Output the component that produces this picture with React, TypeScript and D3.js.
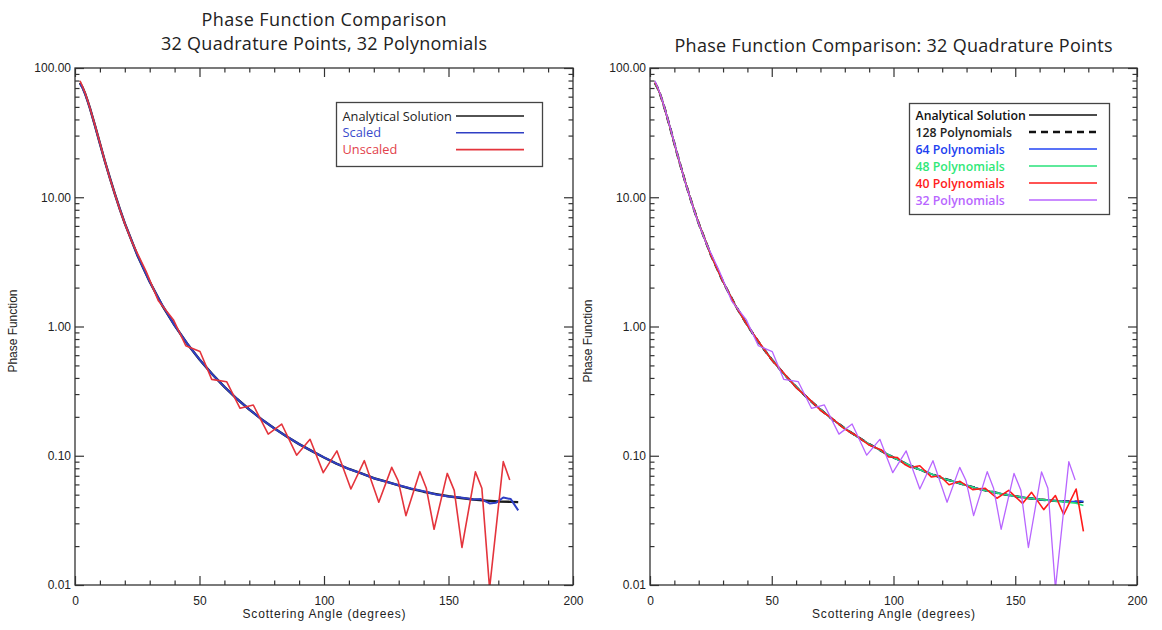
import { useRef, useEffect } from 'react';
import * as d3 from 'd3';

const WIDTH = 1162;
const HEIGHT = 630;

// ---- values (scattering angle in degrees, phase function) ----

const analyticAngles = [2, 3, 4, 5, 6, 8, 10, 12, 14, 16, 18, 20, 25, 30, 35, 40, 45, 50, 55, 60, 65, 70, 75, 80, 85, 90, 95, 100, 105, 110, 115, 120, 125, 130, 135, 140, 145, 150, 155, 160, 165, 170, 175, 178];
const analyticPF = [76.8, 70.9, 63.8, 56.2, 48.9, 36.0, 26.1, 19.0, 14.1, 10.6, 8.1, 6.28, 3.58, 2.22, 1.46, 1.02, 0.739, 0.555, 0.430, 0.341, 0.276, 0.228, 0.191, 0.163, 0.141, 0.123, 0.109, 0.097, 0.087, 0.079, 0.073, 0.067, 0.063, 0.059, 0.0555, 0.0527, 0.0505, 0.0486, 0.0471, 0.0459, 0.0450, 0.0443, 0.0440, 0.0438];

// left panel, "Scaled"
const scaledAngles = [2, 3, 4, 5, 6, 8, 10, 12, 14, 16, 18, 20, 25, 30, 35, 40, 45, 50, 55, 60, 65, 70, 75, 80, 85, 90, 95, 100, 105, 110, 115, 120, 125, 130, 135, 140, 145, 150, 155, 160, 163, 166.5, 169, 172, 175, 178];
const scaledPF = [75.5, 70.5, 63.5, 56.0, 48.8, 36.0, 26.1, 19.0, 14.1, 10.6, 8.1, 6.28, 3.58, 2.22, 1.47, 1.02, 0.74, 0.556, 0.430, 0.341, 0.276, 0.228, 0.191, 0.163, 0.141, 0.123, 0.109, 0.097, 0.087, 0.079, 0.073, 0.067, 0.063, 0.0592, 0.0558, 0.0532, 0.0502, 0.0484, 0.0476, 0.0458, 0.0462, 0.0428, 0.0432, 0.0475, 0.0462, 0.0378];

// left "Unscaled" == right "32 Polynomials"
const poly32Angles = [2, 3, 4, 5, 6, 8, 10, 12, 14, 16, 18, 20, 23, 28.5, 33.5, 39.5, 44.5, 50.2, 54.9, 60.9, 66.3, 71.6, 77.6, 83, 89, 94.4, 99.7, 105.2, 110.8, 116.2, 122, 127.2, 129.8, 132.9, 138.5, 141.1, 144.2, 149.5, 152.3, 155.4, 160.8, 163.4, 166.5, 172, 174.6];
const poly32PF = [79.5, 72, 64.5, 56.5, 49, 36.2, 26.3, 19.1, 14.0, 10.6, 8.05, 6.25, 4.45, 2.68, 1.58, 1.13, 0.71, 0.64, 0.39, 0.374, 0.233, 0.247, 0.147, 0.176, 0.101, 0.134, 0.074, 0.109, 0.0553, 0.0916, 0.0437, 0.0813, 0.064, 0.0344, 0.0753, 0.056, 0.027, 0.073, 0.054, 0.0195, 0.075, 0.056, 0.0094, 0.090, 0.065];

// right panel
const poly128PF = [76.8, 70.9, 63.8, 56.2, 48.9, 36.0, 26.1, 19.0, 14.1, 10.6, 8.1, 6.28, 3.58, 2.22, 1.46, 1.02, 0.739, 0.555, 0.430, 0.341, 0.276, 0.228, 0.191, 0.163, 0.141, 0.123, 0.109, 0.097, 0.087, 0.079, 0.073, 0.067, 0.063, 0.059, 0.0555, 0.0527, 0.0505, 0.0486, 0.0471, 0.0459, 0.0450, 0.0443, 0.0441, 0.0440];
const poly64PF = [76.5, 70.8, 63.8, 56.2, 48.9, 36.0, 26.1, 19.0, 14.1, 10.6, 8.1, 6.28, 3.58, 2.22, 1.46, 1.02, 0.739, 0.555, 0.430, 0.341, 0.276, 0.228, 0.191, 0.163, 0.141, 0.123, 0.109, 0.097, 0.087, 0.079, 0.073, 0.067, 0.063, 0.059, 0.0556, 0.0526, 0.0506, 0.0485, 0.0472, 0.0458, 0.0451, 0.0442, 0.0443, 0.0444];
const poly48PF = [76.2, 70.6, 63.8, 56.2, 48.9, 36.0, 26.1, 19.0, 14.1, 10.6, 8.1, 6.28, 3.58, 2.22, 1.46, 1.02, 0.739, 0.555, 0.430, 0.341, 0.276, 0.228, 0.191, 0.163, 0.141, 0.123, 0.109, 0.097, 0.087, 0.079, 0.073, 0.067, 0.063, 0.059, 0.0554, 0.0528, 0.0503, 0.0487, 0.0470, 0.0460, 0.0448, 0.0440, 0.0430, 0.0412];
const poly40Angles = [2, 3, 4, 5, 6, 8, 10, 12, 14, 16, 18, 20, 25, 30, 35, 40, 45, 50, 55, 60, 65, 70, 75, 80, 85, 90, 95, 98, 101.5, 104.5, 107, 110.8, 115.6, 119, 122.8, 127.3, 132.5, 137.7, 142.5, 147.3, 153, 156.7, 161.7, 166.5, 169.9, 175, 178];
const poly40PF = [77.5, 71, 64, 56.2, 48.9, 36, 26.1, 19, 14.1, 10.6, 8.1, 6.28, 3.58, 2.22, 1.46, 1.02, 0.745, 0.55, 0.435, 0.337, 0.279, 0.225, 0.193, 0.161, 0.142, 0.121, 0.111, 0.098, 0.097, 0.086, 0.081, 0.0837, 0.0684, 0.070, 0.0597, 0.0634, 0.0547, 0.056, 0.0469, 0.054, 0.0428, 0.0521, 0.0383, 0.0492, 0.0351, 0.0553, 0.026];

const xMajor = [0, 50, 100, 150, 200];
const yMajor = [0.01, 0.1, 1, 10, 100];

type Series = { label: string; angles: number[]; values: number[]; color: string; textColor: string; width: number; dash?: string };
type Panel = {
  x0: number; x1: number; y0: number; y1: number;
  title: { text: string; y: number; len: number }[];
  legend: { x: number; y: number; w: number; h: number; rowStep: number; firstBase: number; lineX0: number; lineX1: number; size: number; weight: number };
  series: Series[];
  ytitleY: number;
};

const PANELS: Panel[] = [
  {
    x0: 75, x1: 573, y0: 68, y1: 585,
    title: [
      { text: 'Phase Function Comparison', y: 25.5, len: 245 },
      { text: '32 Quadrature Points, 32 Polynomials', y: 49.5, len: 326 },
    ],
    legend: { x: 336.5, y: 102.5, w: 206, h: 64, rowStep: 16.8, firstBase: 120.5, lineX0: 456, lineX1: 524, size: 12.8, weight: 400 },
    series: [
      { label: 'Analytical Solution', angles: analyticAngles, values: analyticPF, color: '#1a1a1a', textColor: '#222', width: 2.4 },
      { label: 'Scaled', angles: scaledAngles, values: scaledPF, color: '#2f3fc4', textColor: '#3a4bcc', width: 2 },
      { label: 'Unscaled', angles: poly32Angles, values: poly32PF, color: '#e4343c', textColor: '#e2424b', width: 1.6 },
    ],
    ytitleY: 331,
  },
  {
    x0: 650, x1: 1137, y0: 68, y1: 585,
    title: [{ text: 'Phase Function Comparison: 32 Quadrature Points', y: 52, len: 438 }],
    legend: { x: 909.5, y: 103.5, w: 200, h: 111, rowStep: 17, firstBase: 119.5, lineX0: 1029, lineX1: 1097, size: 12.3, weight: 600 },
    series: [
      { label: 'Analytical Solution', angles: analyticAngles, values: analyticPF, color: '#111', textColor: '#111', width: 1.6 },
      { label: '128 Polynomials', angles: analyticAngles, values: poly128PF, color: '#111', textColor: '#222', width: 2.4, dash: '7,5' },
      { label: '64 Polynomials', angles: analyticAngles, values: poly64PF, color: '#2244f5', textColor: '#2040f0', width: 1.6 },
      { label: '48 Polynomials', angles: analyticAngles, values: poly48PF, color: '#28e27a', textColor: '#30e878', width: 1.6 },
      { label: '40 Polynomials', angles: poly40Angles, values: poly40PF, color: '#ff1a1a', textColor: '#ff2020', width: 1.6 },
      { label: '32 Polynomials', angles: poly32Angles, values: poly32PF, color: '#b865ff', textColor: '#b866ff', width: 1.3 },
    ],
    ytitleY: 341,
  },
];

function drawPanel(svg: d3.Selection<SVGSVGElement, unknown, null, undefined>, p: Panel, idx: number) {
  const x = d3.scaleLinear().domain([0, 200]).range([p.x0, p.x1]);
  const y = d3.scaleLog().domain([0.01, 100]).range([p.y1, p.y0]);
  const g = svg.append('g');
  const axisColor = '#333';
  const tickFont = 'Liberation Sans, Arial, sans-serif';

  // titles
  p.title.forEach(function (t) {
    g.append('text')
      .attr('x', (p.x0 + p.x1) / 2)
      .attr('y', t.y)
      .attr('text-anchor', 'middle')
      .attr('font-family', 'Open Sans, Noto Sans, sans-serif')
      .attr('font-size', 18)
      .attr('fill', '#222')
      .attr('textLength', t.len)
      .text(t.text);
  });

  // data lines, clipped to the plot box
  const clipId = 'plotclip' + idx;
  svg.append('clipPath').attr('id', clipId)
    .append('rect')
    .attr('x', p.x0).attr('y', p.y0)
    .attr('width', p.x1 - p.x0).attr('height', p.y1 - p.y0);

  const line = d3.line<[number, number]>()
    .x(function (d) { return x(d[0]); })
    .y(function (d) { return y(d[1]); });

  p.series.forEach(function (s) {
    const pts: [number, number][] = s.angles.map(function (a, k) { return [a, s.values[k]]; });
    g.append('path')
      .attr('d', line(pts))
      .attr('fill', 'none')
      .attr('stroke', s.color)
      .attr('stroke-width', s.width)
      .attr('stroke-dasharray', s.dash || null)
      .attr('stroke-linejoin', 'round')
      .attr('clip-path', 'url(#' + clipId + ')');
  });

  // axes: ticks point inward, on all four sides
  const yMinor: number[] = [];
  yMajor.slice(0, 4).forEach(function (d) {
    for (let m = 2; m <= 9; m++) yMinor.push(d * m);
  });
  const xMinor = d3.range(10, 200, 10).filter(function (v) { return v % 50 !== 0; });

  function style(sel: d3.Selection<SVGGElement, unknown, null, undefined>) {
    sel.select('.domain').remove();
    sel.selectAll('line').attr('stroke', axisColor).attr('stroke-width', 1.2);
    sel.attr('font-family', tickFont).attr('font-size', 12);
    sel.selectAll('text').attr('fill', '#222');
  }

  g.append('g').attr('transform', 'translate(0,' + p.y1 + ')')
    .call(d3.axisBottom(x).tickValues(xMajor).tickSize(-9).tickPadding(11).tickFormat(d3.format('d')) as any)
    .call(style);
  g.append('g').attr('transform', 'translate(0,' + p.y1 + ')')
    .call(d3.axisBottom(x).tickValues(xMinor).tickSize(-4.5).tickFormat(function () { return ''; }) as any)
    .call(style);
  g.append('g').attr('transform', 'translate(0,' + p.y0 + ')')
    .call(d3.axisTop(x).tickValues(xMajor).tickSize(-9).tickFormat(function () { return ''; }) as any)
    .call(style);
  g.append('g').attr('transform', 'translate(0,' + p.y0 + ')')
    .call(d3.axisTop(x).tickValues(xMinor).tickSize(-4.5).tickFormat(function () { return ''; }) as any)
    .call(style);

  g.append('g').attr('transform', 'translate(' + p.x0 + ',0)')
    .call(d3.axisLeft(y).tickValues(yMajor).tickSize(-9).tickPadding(4).tickFormat(d3.format('.2f')) as any)
    .call(style);
  g.append('g').attr('transform', 'translate(' + p.x0 + ',0)')
    .call(d3.axisLeft(y).tickValues(yMinor).tickSize(-4.5).tickFormat(function () { return ''; }) as any)
    .call(style);
  g.append('g').attr('transform', 'translate(' + p.x1 + ',0)')
    .call(d3.axisRight(y).tickValues(yMajor).tickSize(-9).tickFormat(function () { return ''; }) as any)
    .call(style);
  g.append('g').attr('transform', 'translate(' + p.x1 + ',0)')
    .call(d3.axisRight(y).tickValues(yMinor).tickSize(-4.5).tickFormat(function () { return ''; }) as any)
    .call(style);

  // frame
  g.append('rect')
    .attr('x', p.x0).attr('y', p.y0)
    .attr('width', p.x1 - p.x0).attr('height', p.y1 - p.y0)
    .attr('fill', 'none')
    .attr('stroke', axisColor)
    .attr('stroke-width', 1.3);

  // axis titles
  g.append('text')
    .attr('x', (p.x0 + p.x1) / 2)
    .attr('y', 618)
    .attr('text-anchor', 'middle')
    .attr('font-family', tickFont)
    .attr('font-size', 12)
    .attr('fill', '#222')
    .attr('textLength', 163)
    .text('Scottering Angle (degrees)');

  g.append('text')
    .attr('transform', 'translate(' + (p.x0 - 58) + ',' + p.ytitleY + ') rotate(-90)')
    .attr('text-anchor', 'middle')
    .attr('font-family', tickFont)
    .attr('font-size', 12)
    .attr('fill', '#222')
    .attr('textLength', 83)
    .text('Phase Function');

  // legend
  const L = p.legend;
  const lg = g.append('g');
  lg.append('rect')
    .attr('x', L.x).attr('y', L.y)
    .attr('width', L.w).attr('height', L.h)
    .attr('fill', '#fff')
    .attr('stroke', '#444')
    .attr('stroke-width', 1.3);
  p.series.forEach(function (s, k) {
    const base = L.firstBase + k * L.rowStep;
    lg.append('text')
      .attr('x', L.x + 6)
      .attr('y', base)
      .attr('font-family', 'Open Sans, Noto Sans, sans-serif')
      .attr('font-size', L.size)
      .attr('font-weight', L.weight)
      .attr('fill', s.textColor)
      .text(s.label);
    lg.append('line')
      .attr('x1', L.lineX0).attr('x2', L.lineX1)
      .attr('y1', base - 4.5).attr('y2', base - 4.5)
      .attr('stroke', s.color)
      .attr('stroke-width', s.dash ? 2.4 : 1.6)
      .attr('stroke-dasharray', s.dash || null);
  });
}

export default function App() {
  const svgRef = useRef<SVGSVGElement>(null);

  useEffect(() => {
    const svg = d3.select(svgRef.current as SVGSVGElement);
    svg.selectAll('*').remove();
    svg.append('rect').attr('width', WIDTH).attr('height', HEIGHT).attr('fill', '#fff');
    PANELS.forEach(function (p, i) { drawPanel(svg, p, i); });
  }, []);

  return (
    <svg
      ref={svgRef}
      width={WIDTH}
      height={HEIGHT}
      style={{ position: 'absolute', left: 0, top: 0, background: '#fff' }}
    />
  );
}
